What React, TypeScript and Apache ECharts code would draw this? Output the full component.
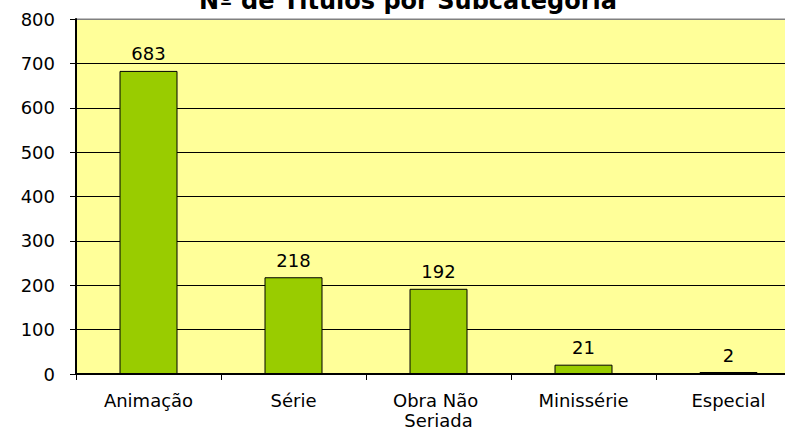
import React, { useEffect, useRef } from "react";
import * as echarts from "echarts";

const titleText = "Nº de Títulos por Subcategoria";
const categories = ["Animação", "Série", "Obra Não Seriada", "Minissérie", "Especial"];
const values = [683, 218, 192, 21, 2];
const yTicks = [0, 100, 200, 300, 400, 500, 600, 700, 800];

const FONT = "DejaVu Sans, Verdana, sans-serif";

export default function App() {
  const ref = useRef<HTMLDivElement>(null);
  useEffect(() => {
    if (!ref.current) return;
    const chart = echarts.init(ref.current, undefined, { renderer: "svg" });
    const splitColors = yTicks.map((t, i) => (i === yTicks.length - 1 ? "#808080" : "#000000"));
    chart.setOption({
      animation: false,
      backgroundColor: "#ffffff",
      graphic: [
        {
          type: "text",
          x: 408,
          y: -11,
          style: {
            text: titleText,
            font: `bold 24px ${FONT}`,
            fill: "#000",
            textAlign: "center",
            textVerticalAlign: "top",
          },
        },
      ],
      grid: {
        left: 76,
        top: 19,
        width: 725,
        height: 355,
        show: true,
        backgroundColor: "#FFFF99",
        borderColor: "#808080",
        borderWidth: 1,
      },
      xAxis: {
        type: "category",
        data: categories,
        axisLine: { show: true, lineStyle: { color: "#000", width: 2 } },
        axisTick: { show: true, length: 6, lineStyle: { color: "#000", width: 1 } },
        axisLabel: {
          color: "#000",
          fontFamily: FONT,
          fontSize: 18,
          lineHeight: 20,
          margin: 16,
          width: 125,
          overflow: "break",
          interval: 0,
        },
        splitLine: { show: false },
      },
      yAxis: {
        type: "value",
        min: yTicks[0],
        max: yTicks[yTicks.length - 1],
        interval: 100,
        axisLine: { show: true, lineStyle: { color: "#000", width: 2 } },
        axisTick: { show: true, length: 6, lineStyle: { color: "#000", width: 1 } },
        axisLabel: { color: "#000", fontFamily: FONT, fontSize: 18, margin: 21 },
        splitLine: { show: true, lineStyle: { color: splitColors, width: 1 } },
      },
      series: [
        {
          type: "bar",
          data: values,
          barWidth: 58,
          barMinHeight: 2,
          itemStyle: { color: "#99CC00", borderColor: "#000", borderWidth: 1 },
          label: {
            show: true,
            position: "top",
            distance: 8,
            color: "#000",
            fontFamily: FONT,
            fontSize: 18,
          },
        },
      ],
    });
    return () => chart.dispose();
  }, []);
  return (
    <div
      style={{
        position: "absolute",
        left: 0,
        top: 0,
        width: 785,
        height: 431,
        overflow: "hidden",
      }}
    >
      <div ref={ref} style={{ width: 810, height: 431 }} />
    </div>
  );
}
